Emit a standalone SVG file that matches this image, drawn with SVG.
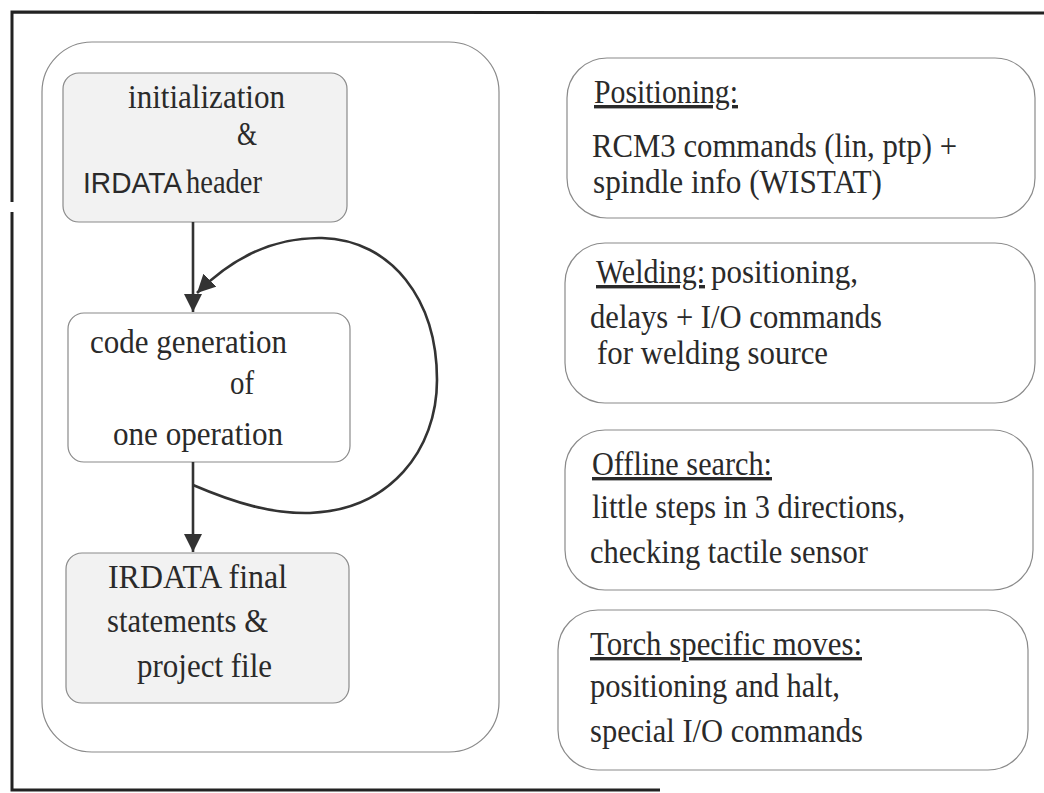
<svg xmlns="http://www.w3.org/2000/svg" width="1044" height="793" viewBox="0 0 1044 793">
<style>
.frame{stroke:#222;stroke-width:3;fill:none}
.box{stroke:#8a8a8a;stroke-width:1.2}
.g{fill:#f2f2f2}
.w{fill:#fff}
text{font-family:"Liberation Serif","Times New Roman",Times,serif;font-size:34px;fill:#2a2a2a}
.sans{font-family:"Liberation Sans",Arial,sans-serif;font-size:30px}
.u{text-decoration:underline}
.conn{stroke:#333;stroke-width:2.6;fill:none}
</style>
<defs>
<marker id="ah" viewBox="0 0 10 10" refX="10" refY="5" markerWidth="7" markerHeight="7" markerUnits="strokeWidth" orient="auto">
<path d="M0,0 L10,5 L0,10 z" fill="#333"/>
</marker>
</defs>
<rect width="1044" height="793" fill="#fff"/>
<g id="frame">
<path class="frame" d="M12,202 L12,12 L1044,13"/>
<path class="frame" d="M12,212 L12,790 L660,790"/>
</g>
<g id="container">
<rect class="box w" x="42" y="42" width="457" height="710" rx="50"/>
</g>
<g id="n-init">
<rect class="box g" x="63" y="73" width="284" height="149" rx="16"/>
<text x="128" y="108" textLength="157" lengthAdjust="spacingAndGlyphs">initialization</text>
<text x="237" y="145" textLength="20" lengthAdjust="spacingAndGlyphs">&amp;</text>
<text x="83" y="193"><tspan class="sans" textLength="99" lengthAdjust="spacingAndGlyphs">IRDATA</tspan><tspan x="186" textLength="76" lengthAdjust="spacingAndGlyphs">header</tspan></text>
</g>
<g id="n-code">
<rect class="box w" x="68" y="313" width="282" height="149" rx="16"/>
<text x="90" y="353" textLength="197" lengthAdjust="spacingAndGlyphs">code generation</text>
<text x="230" y="394" textLength="24" lengthAdjust="spacingAndGlyphs">of</text>
<text x="113" y="445" textLength="170" lengthAdjust="spacingAndGlyphs">one operation</text>
</g>
<g id="n-final">
<rect class="box g" x="66" y="553" width="283" height="150" rx="16"/>
<text x="108" y="588" textLength="179" lengthAdjust="spacingAndGlyphs">IRDATA final</text>
<text x="107" y="632" textLength="161" lengthAdjust="spacingAndGlyphs">statements &amp;</text>
<text x="137" y="677" textLength="135" lengthAdjust="spacingAndGlyphs">project file</text>
</g>
<g id="connectors">
<line class="conn" x1="193" y1="222" x2="193" y2="312" marker-end="url(#ah)"/>
<line class="conn" x1="193" y1="462" x2="193" y2="552" marker-end="url(#ah)"/>
<path class="conn" d="M193,485 C235,503 272,514 310,513 C390,510 437,450 437,380 C437,300 392,240 322,238 C272,237 232,258 197,293" marker-end="url(#ah)"/>
</g>
<g id="n-positioning">
<rect class="box w" x="567" y="58" width="468" height="160" rx="40"/>
<text x="594" y="103" class="u" textLength="144" lengthAdjust="spacingAndGlyphs">Positioning:</text>
<text x="592" y="157" textLength="365" lengthAdjust="spacingAndGlyphs">RCM3 commands (lin, ptp) +</text>
<text x="593" y="193" textLength="289" lengthAdjust="spacingAndGlyphs">spindle info (WISTAT)</text>
</g>
<g id="n-welding">
<rect class="box w" x="565" y="243" width="470" height="160" rx="40"/>
<text x="596" y="283"><tspan class="u" textLength="109" lengthAdjust="spacingAndGlyphs">Welding:</tspan><tspan x="711" textLength="147" lengthAdjust="spacingAndGlyphs">positioning,</tspan></text>
<text x="590" y="328" textLength="292" lengthAdjust="spacingAndGlyphs">delays + I/O commands</text>
<text x="597" y="364" textLength="231" lengthAdjust="spacingAndGlyphs">for welding source</text>
</g>
<g id="n-offline">
<rect class="box w" x="565" y="430" width="468" height="160" rx="40"/>
<text x="592" y="475" class="u" textLength="180" lengthAdjust="spacingAndGlyphs">Offline search:</text>
<text x="592" y="518" textLength="313" lengthAdjust="spacingAndGlyphs">little steps in 3 directions,</text>
<text x="590" y="563" textLength="278" lengthAdjust="spacingAndGlyphs">checking tactile sensor</text>
</g>
<g id="n-torch">
<rect class="box w" x="558" y="610" width="470" height="160" rx="40"/>
<text x="590" y="655" class="u" textLength="272" lengthAdjust="spacingAndGlyphs">Torch specific moves:</text>
<text x="590" y="697" textLength="250" lengthAdjust="spacingAndGlyphs">positioning and halt,</text>
<text x="590" y="742" textLength="273" lengthAdjust="spacingAndGlyphs">special I/O commands</text>
</g>
</svg>
